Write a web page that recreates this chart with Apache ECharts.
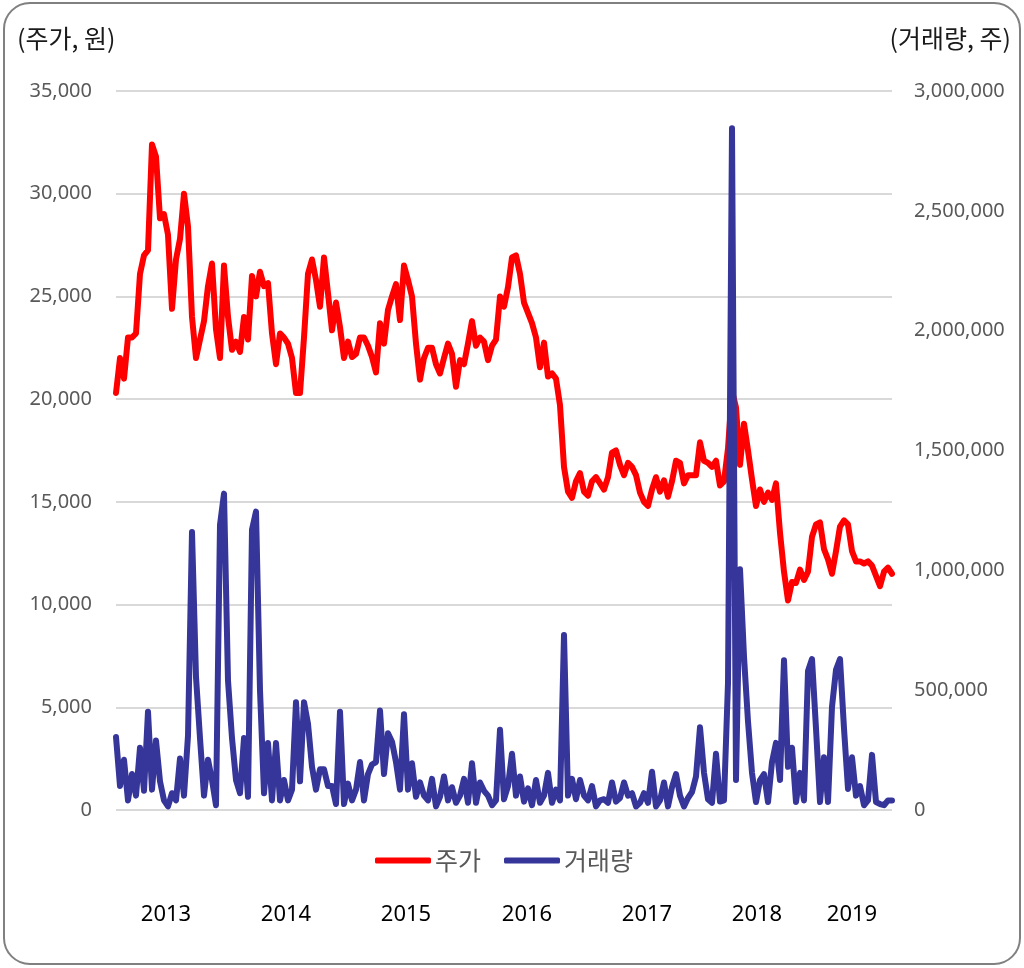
<!DOCTYPE html>
<html>
<head>
<meta charset="utf-8">
<style>
  html, body { margin: 0; padding: 0; background: #fff; }
  #chart { width: 1024px; height: 968px; }
</style>
<script src="https://cdn.jsdelivr.net/npm/echarts@6/dist/echarts.min.js"></script>
</head>
<body>
<div id="chart"></div>
<script>
// 주가 (원), weekly-ish samples
var price = [
  20300, 22000, 21000, 23000, 23000, 23200, 26100, 27000, 27250, 32400,
  31800, 28800, 29000, 28000, 24400, 26800, 27800, 30000, 28400, 24000,
  22000, 22900, 23800, 25500, 26600, 23400, 22000, 26500, 24000, 22400,
  22800, 22300, 24000, 22900, 26000, 25000, 26200, 25500, 25650, 23200,
  21700, 23200, 23000, 22700, 22000, 20300, 20300, 23000, 26100, 26800,
  25800, 24500, 26900, 25150, 23350, 24700, 23500, 22000, 22800, 22050,
  22200, 23000, 23000, 22600, 22050, 21300, 23700, 22700, 24350, 25000,
  25600, 23850, 26500, 25800, 25000, 22700, 20950, 22000, 22500, 22500,
  21700, 21250, 22000, 22700, 22200, 20600, 21900, 21700, 22700, 23800,
  22600, 23000, 22800, 21900, 22600, 22900, 25000, 24500, 25450, 26900,
  27000, 26100, 24700, 24200, 23700, 23000, 21550, 22750, 21100, 21250,
  21000, 19700, 16700, 15500, 15200, 16000, 16400, 15500, 15300, 16000,
  16200, 15900, 15600, 16200, 17400, 17500, 16800, 16300, 16900, 16700,
  16300, 15450, 15000, 14800, 15600, 16200, 15500, 16050, 15250, 16000,
  17000, 16900, 15900, 16300, 16300, 16300, 17900, 17000, 16900, 16700,
  17000, 15800, 16000, 17600, 20400, 19600, 16800, 18800, 17500, 16100,
  14800, 15600, 15000, 15450, 15100, 15900, 13500, 11600, 10200, 11100,
  11050, 11700, 11200, 11600, 13300, 13900, 14000, 12700, 12200, 11500,
  12600, 13800, 14100, 13900, 12600, 12100, 12100, 12000, 12100, 11900,
  11400, 10900, 11600, 11800, 11500
];

// 거래량 (천 주)
var volumeThousands = [
  305, 100, 210, 40, 150, 60, 260, 80, 410, 85,
  290, 120, 40, 15, 70, 40, 215, 60, 310, 1160,
  555, 300, 60, 210, 125, 20, 1190, 1320, 540, 300,
  125, 70, 300, 55, 1170, 1245, 500, 70, 280, 40,
  280, 40, 125, 40, 85, 450, 120, 450, 360, 180,
  85, 170, 170, 100, 100, 25, 410, 25, 110, 40,
  85, 200, 40, 150, 190, 200, 415, 150, 320, 285,
  200, 85, 400, 85, 195, 55, 115, 60, 40, 130,
  15, 55, 140, 40, 95, 30, 60, 130, 30, 195,
  30, 115, 80, 60, 20, 40, 335, 45, 100, 235,
  60, 140, 35, 90, 20, 125, 30, 60, 155, 30,
  85, 40, 730, 60, 130, 45, 125, 60, 40, 100,
  15, 40, 45, 30, 115, 35, 50, 115, 60, 70,
  15, 30, 70, 30, 160, 15, 40, 115, 15, 95,
  150, 60, 15, 50, 75, 140, 345, 155, 45, 30,
  235, 35, 40, 530, 2845, 125, 1005, 640, 370, 155,
  33, 125, 150, 33, 200, 280, 125, 625, 180, 260,
  33, 155, 40, 580, 630, 340, 33, 220, 33, 430,
  585, 630, 340, 88, 220, 60, 100, 20, 40, 230,
  33, 25, 20, 40, 40
];

// year labels and the sample index they sit on
var yearLabels = ['2013', '2014', '2015', '2016', '2017', '2018', '2019'];
var yearTicks = [12.5, 42.5, 72.5, 102.75, 132.75, 160.25, 184];

var priceData = price.map(function (v, i) { return [i, v]; });
var volumeData = volumeThousands.map(function (v, i) { return [i, v * 1000]; });

function comma(v) { return v.toLocaleString('en-US'); }

var chart = echarts.init(document.getElementById('chart'));
chart.setOption({
  animation: false,
  backgroundColor: '#fff',
  textStyle: { fontFamily: '"Noto Sans", "Noto Sans CJK KR", sans-serif' },
  grid: { left: 116, top: 91, width: 776, height: 719 },
  legend: {
    left: 370,
    top: 843,
    itemWidth: 56,
    itemHeight: 6,
    itemGap: 23,
    icon: 'roundRect',
    textStyle: { fontSize: 25, color: '#595959', fontFamily: '"Noto Sans CJK KR", sans-serif', padding: [0, 0, 0, -1] },
    data: ['주가', '거래량']
  },
  xAxis: {
    type: 'value',
    min: 0,
    max: price.length - 1,
    splitLine: { show: false },
    axisLine: { show: false },
    axisTick: { show: false },
    axisLabel: {
      customValues: yearTicks,
      margin: 94,
      fontSize: 22,
      color: '#000',
      formatter: function (v) {
        var k = yearTicks.indexOf(v);
        return k >= 0 ? yearLabels[k] : '';
      }
    }
  },
  yAxis: [
    {
      type: 'value',
      min: 0,
      max: 35000,
      interval: 5000,
      axisLine: { show: false },
      axisTick: { show: false },
      splitLine: { lineStyle: { color: '#d9d9d9', width: 2 } },
      axisLabel: { margin: 24, fontSize: 20, color: '#595959', formatter: comma }
    },
    {
      type: 'value',
      min: 0,
      max: 3000000,
      interval: 500000,
      axisLine: { show: false },
      axisTick: { show: false },
      splitLine: { show: false },
      axisLabel: { margin: 22, fontSize: 20, color: '#595959', formatter: comma }
    }
  ],
  series: [
    {
      name: '주가',
      type: 'line',
      yAxisIndex: 0,
      showSymbol: false,
      symbol: 'none',
      data: priceData,
      itemStyle: { color: '#ff0000' },
      lineStyle: { color: '#ff0000', width: 6, cap: 'round', join: 'round' }
    },
    {
      name: '거래량',
      type: 'line',
      yAxisIndex: 1,
      showSymbol: false,
      symbol: 'none',
      data: volumeData,
      itemStyle: { color: '#35359a' },
      lineStyle: { color: '#35359a', width: 6, cap: 'round', join: 'round' }
    }
  ],
  graphic: [
    {
      type: 'rect',
      shape: { x: 4, y: 3, width: 1016, height: 961, r: 26 },
      style: { fill: 'none', stroke: '#808080', lineWidth: 2 },
      silent: true
    },
    {
      type: 'text',
      left: 17,
      top: 26,
      style: { text: '(주가, 원)', font: '25px "Noto Sans CJK KR"', fill: '#1a1a1a' }
    },
    {
      type: 'text',
      right: 13,
      top: 26,
      style: { text: '(거래량, 주)', font: '25px "Noto Sans CJK KR"', fill: '#1a1a1a' }
    }
  ]
});
</script>
</body>
</html>
